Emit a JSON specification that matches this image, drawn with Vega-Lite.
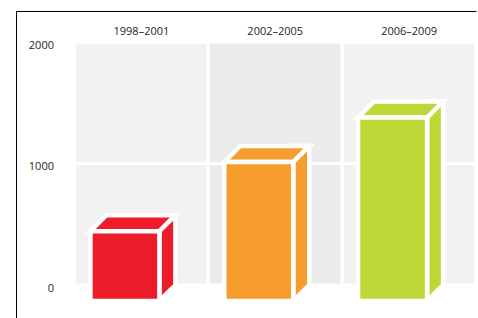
{
  "$schema": "https://vega.github.io/schema/vega-lite/v6.json",
  "width": 478,
  "height": 318,
  "autosize": {"type": "fit", "contains": "padding"},
  "padding": {"left": 14, "top": 11, "right": 0, "bottom": 0},
  "background": "white",
  "data": {"values": [
    {"period": "1998–2001", "value": 575},
    {"period": "2002–2005", "value": 1145},
    {"period": "2006–2009", "value": 1510}
  ]},
  "config": {
    "view": {"stroke": null},
    "axis": {
      "domainColor": "#000000",
      "domainWidth": 1,
      "ticks": false,
      "tickSize": 0,
      "grid": false,
      "labelFont": "Open Sans",
      "labelFontSize": 11,
      "labelColor": "#231f20"
    },
    "axisX": {"labelPadding": -23, "labelBaseline": "alphabetic", "labelAngle": 0},
    "axisY": {"labelPadding": -37.5, "labelOffset": 3.5}
  },
  "layer": [
    {
      "mark": {"type": "bar", "stroke": "white", "strokeWidth": 3},
      "encoding": {
        "x": {"field": "period", "type": "nominal", "title": null, "sort": null,
              "scale": {"paddingInner": 0, "paddingOuter": 0.2185, "align": 1},
              "axis": {"orient": "top", "zindex": 1}},
        "y": {"datum": 2000, "type": "quantitative", "title": null,
              "scale": {"domain": [-271.6, 2255.1], "nice": false, "zero": false},
              "axis": {"values": [0, 1000, 2000], "format": "d", "zindex": 1}},
        "y2": {"datum": 0},
        "fill": {"condition": {"test": "datum.period === '2002–2005'", "value": "#ebebeb"}, "value": "#f2f2f2"}
      }
    },
    {
      "data": {"values": [{}]},
      "mark": {"type": "rule", "stroke": "white", "strokeWidth": 3},
      "encoding": {
        "y": {"datum": 1000, "type": "quantitative", "title": null,
              "scale": {"domain": [-271.6, 2255.1], "nice": false, "zero": false},
              "axis": {"values": [0, 1000, 2000], "format": "d", "zindex": 1}}
      }
    },
    {
      "mark": {"type": "bar", "width": 16, "xOffset": 26, "y2Offset": 16, "stroke": "white", "strokeWidth": 4.5},
      "encoding": {
        "x": {"field": "period", "type": "nominal", "title": null, "sort": null,
              "scale": {"paddingInner": 0, "paddingOuter": 0.2185, "align": 1},
              "axis": {"orient": "top", "zindex": 1}},
        "y": {"field": "value", "type": "quantitative", "title": null,
              "scale": {"domain": [-271.6, 2255.1], "nice": false, "zero": false},
              "axis": {"values": [0, 1000, 2000], "format": "d", "zindex": 1}},
        "y2": {"datum": 0},
        "color": {"field": "period", "type": "nominal", "legend": null,
                  "scale": {"domain": ["1998–2001", "2002–2005", "2006–2009"], "range": ["#ed1c2b", "#f79d2d", "#bfd737"]}}
      }
    },
    {
      "mark": {"type": "point", "filled": true, "opacity": 1, "size": 4, "fill": "white", "strokeWidth": 0,
               "shape": "M 11 19.5 L 38 19.5 L 38 0 L 30.8 0 Z"},
      "encoding": {
        "x": {"field": "period", "type": "nominal", "title": null, "sort": null,
              "scale": {"paddingInner": 0, "paddingOuter": 0.2185, "align": 1},
              "axis": {"orient": "top", "zindex": 1}},
        "y": {"datum": 0, "type": "quantitative", "title": null,
              "scale": {"domain": [-271.6, 2255.1], "nice": false, "zero": false},
              "axis": {"values": [0, 1000, 2000], "format": "d", "zindex": 1}}
      }
    },
    {
      "mark": {"type": "point", "filled": true, "opacity": 1, "size": 4, "stroke": "white", "strokeWidth": 4.5,
               "shape": "M -51 16 L -35 0 L 34 0 L 18 16 Z"},
      "encoding": {
        "x": {"field": "period", "type": "nominal", "title": null, "sort": null,
              "scale": {"paddingInner": 0, "paddingOuter": 0.2185, "align": 1},
              "axis": {"orient": "top", "zindex": 1}},
        "y": {"field": "value", "type": "quantitative", "title": null,
              "scale": {"domain": [-271.6, 2255.1], "nice": false, "zero": false},
              "axis": {"values": [0, 1000, 2000], "format": "d", "zindex": 1}},
        "color": {"field": "period", "type": "nominal", "legend": null,
                  "scale": {"domain": ["1998–2001", "2002–2005", "2006–2009"], "range": ["#ed1c2b", "#f79d2d", "#bfd737"]}}
      }
    },
    {
      "mark": {"type": "bar", "width": 69, "xOffset": -16.5, "yOffset": 16, "y2Offset": 16, "stroke": "white", "strokeWidth": 4.5},
      "encoding": {
        "x": {"field": "period", "type": "nominal", "title": null, "sort": null,
              "scale": {"paddingInner": 0, "paddingOuter": 0.2185, "align": 1},
              "axis": {"orient": "top", "zindex": 1}},
        "y": {"field": "value", "type": "quantitative", "title": null,
              "scale": {"domain": [-271.6, 2255.1], "nice": false, "zero": false},
              "axis": {"values": [0, 1000, 2000], "format": "d", "zindex": 1}},
        "y2": {"datum": 0},
        "color": {"field": "period", "type": "nominal", "legend": null,
                  "scale": {"domain": ["1998–2001", "2002–2005", "2006–2009"], "range": ["#ed1c2b", "#f79d2d", "#bfd737"]}}
      }
    }
  ]
}
